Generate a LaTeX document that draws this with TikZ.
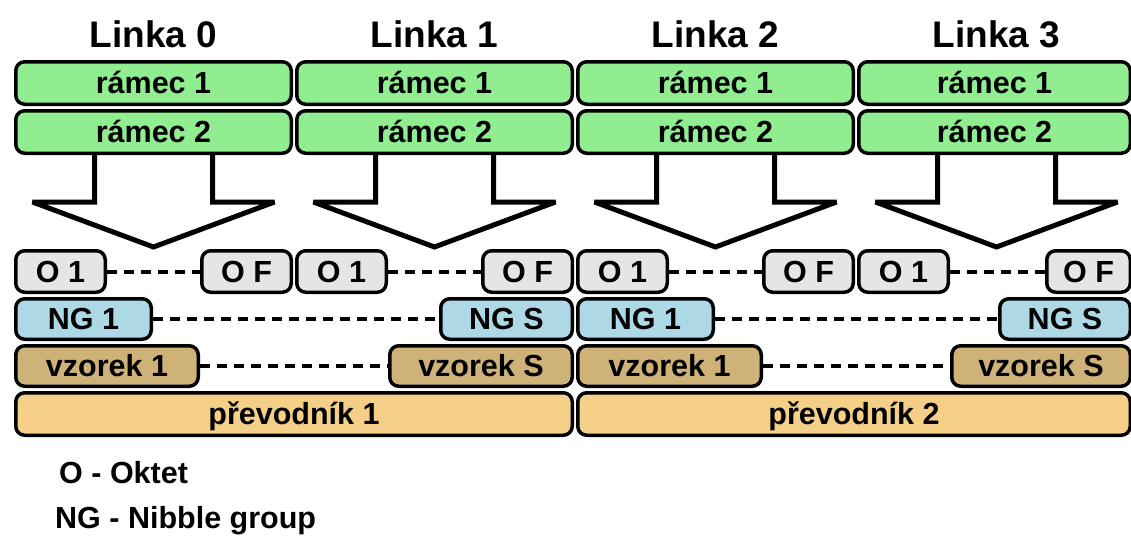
\documentclass[tikz,border=0pt]{standalone}
\usepackage{fontspec}
\setmainfont{Liberation Sans}
\newcommand\boxfont{\bfseries\fontsize{30.5}{32}\selectfont}
\newcommand\headfont{\bfseries\fontsize{37}{40}\selectfont}
\definecolor{framegreen}{HTML}{90EE90}
\definecolor{octgray}{HTML}{E5E5E5}
\definecolor{ngblue}{HTML}{ADD8E6}
\definecolor{sampletan}{HTML}{CFB277}
\definecolor{adcorange}{HTML}{F5CE87}
\tikzset{
  box/.style={draw=black, line width=3.5pt, rounded corners=9pt, inner sep=0pt,
    font=\boxfont, text height=21.5pt, text depth=0pt},
  framebox/.style={box, fill=framegreen},
  octbox/.style={box, fill=octgray},
  ngbox/.style={box, fill=ngblue},
  samplebox/.style={box, fill=sampletan},
  adcbox/.style={box, fill=adcorange},
  linktitle/.style={inner sep=0pt, font=\headfont, text height=26.5pt, text depth=0pt},
  legendtext/.style={inner sep=0pt, font=\boxfont, text height=21.5pt, text depth=0pt, anchor=west},
  bigarrow/.style={draw=black, fill=white, line width=5pt, line join=miter, miter limit=2},
  dashline/.style={draw=black, line width=4pt, dash pattern=on 9.5pt off 7.5pt}
}
% box given by its outer extents: name, x0, y0, x1, y1, style, text
\newcommand\blk[7]{%
  \node[#6, minimum width={#4-#2-3.5}, minimum height={#5-#3-3.5}]
    (#1) at ({(#2+#4)/2},{(#3+#5)/2}) {#7};}
\begin{document}
\begin{tikzpicture}[x=1pt, y=-1pt]
\useasboundingbox (0,0) rectangle (1131,536);

% per link: index, left edge, right edge, centre, left edge of the last octet
\foreach \i/\L/\R/\C/\F in {0/14/293/153.5/200, 1/295/574/434.5/481,
                            2/576/855/715.5/762, 3/857/1132/996.5/1045}{
  % downward block arrow from the frames to the octets
  \draw[bigarrow] ({\C-59},150) -- ({\C-59},202) -- ({\C-121},202) -- (\C,247)
    -- ({\C+121},202) -- ({\C+59},202) -- ({\C+59},150);
  \node[linktitle] (t\i) at (\C,34) {Linka \i};
  \blk{fa\i}{\L}{60}{\R}{106}{framebox}{rámec 1}
  \blk{fb\i}{\L}{109}{\R}{155}{framebox}{rámec 2}
  \blk{oa\i}{\L}{249}{\L+93}{294}{octbox}{O 1}
  \blk{of\i}{\F}{249}{\R}{294}{octbox}{O F}
  \draw[dashline] (oa\i.east) -- (of\i.west);
}

% nibble groups
\blk{nga}{14}{297}{153}{341}{ngbox}{NG 1}
\blk{ngsa}{439}{297}{574}{341}{ngbox}{NG S}
\blk{ngb}{576}{297}{715}{341}{ngbox}{NG 1}
\blk{ngsb}{998}{297}{1132}{341}{ngbox}{NG S}
\draw[dashline] (nga.east) -- (ngsa.west);
\draw[dashline] (ngb.east) -- (ngsb.west);

% samples
\blk{vza}{14}{344}{200}{388}{samplebox}{vzorek 1}
\blk{vzsa}{388}{344}{574}{388}{samplebox}{vzorek S}
\blk{vzb}{576}{344}{763}{388}{samplebox}{vzorek 1}
\blk{vzsb}{950}{344}{1132}{388}{samplebox}{vzorek S}
\draw[dashline] (vza.east) -- (vzsa.west);
\draw[dashline] (vzb.east) -- (vzsb.west);

% converters
\blk{adca}{14}{391}{574}{437}{adcbox}{převodník 1}
\blk{adcb}{576}{391}{1132}{437}{adcbox}{převodník 2}

% legend
\node[legendtext] (lego) at (59,473) {O - Oktet};
\node[legendtext] (legng) at (55,518) {NG - Nibble group};
\end{tikzpicture}
\end{document}
